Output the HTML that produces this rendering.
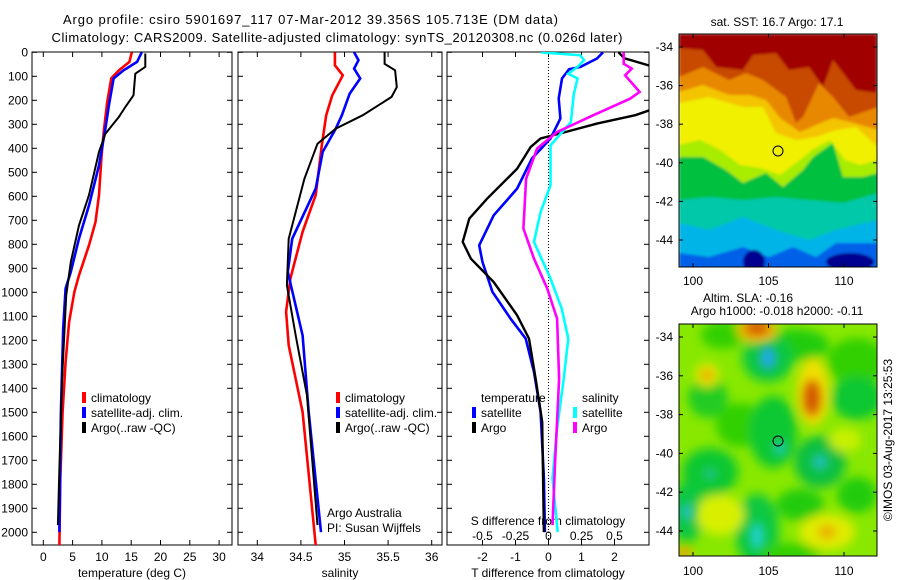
<!DOCTYPE html>
<html><head><meta charset="utf-8">
<style>
html,body{margin:0;padding:0;background:#fff;}
svg{display:block;font-family:"Liberation Sans",sans-serif;}
</style></head>
<body>
<svg id="fig" width="900" height="580" viewBox="0 0 900 580">
  <defs>
    <clipPath id="c1"><rect x="32" y="52" width="200" height="493"/></clipPath>
    <clipPath id="c2"><rect x="238" y="52" width="204" height="493"/></clipPath>
    <clipPath id="c3"><rect x="447" y="52" width="202" height="493"/></clipPath>
    <clipPath id="cm1"><rect x="679" y="34" width="198" height="233"/></clipPath>
    <clipPath id="cm2"><rect x="679" y="324" width="198" height="232"/></clipPath>
    <filter id="bl" x="-20%" y="-20%" width="140%" height="140%"><feGaussianBlur stdDeviation="1.2"/></filter>
    <filter id="bl2" x="-50%" y="-50%" width="200%" height="200%"><feGaussianBlur stdDeviation="5"/></filter>
  </defs>

  <text x="63" y="24" font-size="13" text-anchor="start" textLength="495">Argo profile: csiro 5901697_117 07-Mar-2012 39.356S 105.713E (DM data)</text>
  <text x="337" y="42" font-size="13" text-anchor="middle" textLength="571">Climatology: CARS2009. Satellite-adjusted climatology: synTS_20120308.nc (0.026d later)</text>

  <g id="p1"></g>
  <g id="p2"></g>
  <g id="p3"></g>

  <!-- SST map -->
  <g>
    <text x="777" y="26" font-size="12" text-anchor="middle">sat. SST: 16.7 Argo: 17.1</text>
    <g clip-path="url(#cm1)" filter="url(#bl)">
      <rect x="679" y="34" width="198" height="233" fill="#a00000"/>
      <polygon fill="#c84800" points="679,48 703,50 716,67 743,70 753,55 776,53 789,70 809,67 823,87 833,60 843,73 856,90 878,93 878,270 679,270"/>
      <polygon fill="#e88800" points="679,77 703,67 729,80 746,73 763,80 786,97 796,123 803,117 819,83 833,97 849,117 878,107 878,270 679,270"/>
      <polygon fill="#f4c400" points="679,92 703,85 729,95 750,95 766,100 780,118 800,132 816,125 833,118 850,122 878,130 878,270 679,270"/>
      <polygon fill="#f0f000" points="679,103 709,97 743,107 763,107 776,133 796,140 816,137 836,130 856,127 878,147 878,270 679,270"/>
      <polygon fill="#a8ec00" points="679,145 700,140 720,150 740,165 760,168 780,175 800,160 812,150 830,140 845,160 860,165 878,160 878,270 679,270"/>
      <polygon fill="#00c040" points="679,157 703,157 726,170 743,183 766,173 783,187 803,170 813,157 833,143 843,177 863,177 878,173 878,270 679,270"/>
      <polygon fill="#00c8a8" points="679,200 709,197 743,200 776,197 809,200 843,203 878,193 878,270 679,270"/>
      <polygon fill="#00b4e8" points="679,223 709,230 743,217 776,230 809,240 836,230 878,220 878,270 679,270"/>
      <polygon fill="#0060e8" points="679,253 709,257 743,247 769,257 793,247 816,257 836,243 878,243 878,270 679,270"/>
      <ellipse cx="754" cy="262" rx="11" ry="12" fill="#000090"/>
      <ellipse cx="850" cy="262" rx="24" ry="9" fill="#000090"/>
    </g>
    <rect x="679" y="34" width="198" height="233" fill="none" stroke="#000" stroke-width="1"/>
    <circle cx="778" cy="151" r="5" fill="none" stroke="#000" stroke-width="1"/>
    <g id="m1ax"></g>
  </g>

  <!-- SLA map -->
  <g>
    <text x="748" y="302" font-size="12" text-anchor="middle">Altim. SLA: -0.16</text>
    <text x="777" y="315" font-size="12" text-anchor="middle">Argo h1000: -0.018 h2000: -0.11</text>
    <g clip-path="url(#cm2)">
      <rect x="679" y="324" width="198" height="232" fill="#88e800"/>
      <g filter="url(#bl2)">
        <ellipse cx="723" cy="335" rx="22" ry="14" fill="#30d000"/>
        <ellipse cx="797" cy="345" rx="32" ry="16" fill="#20cc10"/>
        <ellipse cx="768" cy="358" rx="26" ry="24" fill="#10c840"/>
        <ellipse cx="857" cy="362" rx="30" ry="24" fill="#30d000"/>
        <ellipse cx="708" cy="398" rx="20" ry="20" fill="#20cc20"/>
        <ellipse cx="857" cy="398" rx="26" ry="22" fill="#10c830"/>
        <ellipse cx="740" cy="425" rx="24" ry="22" fill="#30d000"/>
        <ellipse cx="773" cy="432" rx="24" ry="36" fill="#10c830"/>
        <ellipse cx="820" cy="462" rx="26" ry="26" fill="#10c040"/>
        <ellipse cx="710" cy="472" rx="28" ry="24" fill="#10c830"/>
        <ellipse cx="687" cy="512" rx="18" ry="30" fill="#10c840"/>
        <ellipse cx="757" cy="530" rx="22" ry="36" fill="#10c840"/>
        <ellipse cx="800" cy="505" rx="24" ry="16" fill="#20cc10"/>
        <ellipse cx="857" cy="495" rx="20" ry="18" fill="#20cc10"/>
        <ellipse cx="790" cy="553" rx="30" ry="10" fill="#30d000"/>
        <ellipse cx="720" cy="515" rx="24" ry="20" fill="#d8f000"/>
        <ellipse cx="827" cy="532" rx="28" ry="18" fill="#e0ec00"/>
        <ellipse cx="813" cy="392" rx="16" ry="34" fill="#f0e000"/>
        <ellipse cx="707" cy="375" rx="12" ry="12" fill="#e0e800"/>
        <ellipse cx="757" cy="330" rx="20" ry="12" fill="#f0c000"/>
        <ellipse cx="845" cy="440" rx="16" ry="12" fill="#c8f000"/>
      </g>
      <g filter="url(#bl2)">
        <ellipse cx="768" cy="358" rx="8" ry="12" fill="#20a8f0"/>
        <ellipse cx="780" cy="448" rx="6" ry="8" fill="#20c8c0"/>
        <ellipse cx="820" cy="462" rx="8" ry="8" fill="#20c0c0"/>
        <ellipse cx="710" cy="474" rx="6" ry="6" fill="#20c0a0"/>
        <ellipse cx="687" cy="512" rx="6" ry="10" fill="#20c0c0"/>
        <ellipse cx="757" cy="536" rx="7" ry="14" fill="#20d0d0"/>
        <ellipse cx="812" cy="398" rx="8" ry="18" fill="#d05000"/>
        <ellipse cx="757" cy="328" rx="12" ry="7" fill="#d05800"/>
        <ellipse cx="707" cy="375" rx="5" ry="5" fill="#f09000"/>
        <ellipse cx="827" cy="532" rx="8" ry="6" fill="#f0a000"/>
        <ellipse cx="684" cy="553" rx="8" ry="6" fill="#f0a000"/>
      </g>
    </g>
    <rect x="679" y="324" width="198" height="232" fill="none" stroke="#000" stroke-width="1"/>
    <circle cx="778" cy="441" r="5" fill="none" stroke="#000" stroke-width="1"/>
    <g id="m2ax"></g>
  </g>

  <text transform="translate(892,440) rotate(-90)" font-size="12" text-anchor="middle">©IMOS 03-Aug-2017 13:25:53</text>
</svg>

<script>
// ===== data =====
const depthTicks = [0,100,200,300,400,500,600,700,800,900,1000,1100,1200,1300,1400,1500,1600,1700,1800,1900,2000];
const tempTicks = [0,5,10,15,20,25,30];
const salTicks = [34,34.5,35,35.5,36];
const tdiffTicks = [-2,-1,0,1,2];
const sdiffTicks = [-0.5,-0.25,0,0.25,0.5];

const tClimDepth = [0,40,75,108,208,332,429,595,707,804,929,998,1124,1290,1499,1775,2053];
const tClimVal   = [15.1,14.7,12.9,11.6,10.9,10.3,9.95,9.5,8.9,7.8,6.1,5.3,4.4,3.8,3.3,2.9,2.75];
const tSatDepth  = [0,40,75,109,221,318,471,638,776,915,984,1150,1499,1999];
const tSatVal    = [16.8,16.0,13.7,12.0,11.2,10.6,9.5,7.8,6.1,4.7,3.8,3.4,3.0,2.75];
const tArgoDepth = [5,61,89,179,228,269,339,415,595,721,874,1013,1359,1733,1970];
const tArgoVal   = [17.4,17.4,15.7,15.4,14.0,12.9,10.6,9.5,7.8,6.1,4.7,3.9,3.2,2.75,2.5];

const sClimDepth = [0,54,96,179,262,388,595,748,942,1081,1221,1499,2053];
const sClimVal   = [34.89,34.89,34.98,34.86,34.79,34.74,34.67,34.52,34.38,34.33,34.36,34.52,34.67];
const sSatDepth  = [0,33,68,109,172,262,318,415,568,777,915,1180,1499,1999];
const sSatVal    = [35.11,35.16,35.11,35.18,35.06,34.97,34.90,34.75,34.67,34.40,34.35,34.52,34.59,34.73];
const sArgoDepth = [0,48,75,145,186,262,318,381,527,777,971,1180,1430,1970];
const sArgoVal   = [35.46,35.46,35.58,35.60,35.54,35.21,34.90,34.69,34.54,34.36,34.34,34.44,34.57,34.69];

const dTSatDepth = [0,26,61,71,109,193,276,359,442,568,679,804,874,998,1110,1193,1332,1499,1775,1999];
const dTSatVal   = [1.65,1.47,0.97,0.62,0.41,0.31,0.36,0.06,-0.5,-0.95,-1.66,-2.1,-2.0,-1.7,-1.15,-0.69,-0.44,-0.24,-0.14,-0.11];
const dTArgoDepth = [0,25,55,120,200,242,262,297,334,359,394,485,610,693,790,860,957,1096,1193,1359,1540,1999];
const dTArgoVal   = [2.12,2.3,3.05,4.2,4.0,3.05,2.63,1.47,0.46,-0.24,-0.54,-0.95,-1.86,-2.4,-2.6,-2.35,-1.66,-0.95,-0.59,-0.39,-0.19,-0.14];
const dSSatDepth = [0,12,33,61,89,109,179,291,388,554,665,790,943,1068,1193,1360,1568,1775,1999];
const dSSatVal   = [-0.06,0.24,0.27,0.22,0.15,0.22,0.19,0.17,0.015,0.015,-0.06,-0.11,0.015,0.10,0.15,0.115,0.065,0.03,0.07];
const dSArgoDepth = [0,48,68,96,165,193,262,332,401,527,734,860,984,1110,1360,1707,1970];
const dSArgoVal   = [0.57,0.57,0.63,0.58,0.69,0.62,0.34,0.065,-0.086,-0.17,-0.19,-0.11,-0.01,0.065,0.08,0.05,0.03];

const mapLatTicks = [-34,-36,-38,-40,-42,-44];
const mapLonTicks = [100,105,110];

// ===== axes =====
const NS = "http://www.w3.org/2000/svg";
const yD = d => 52.3 + d*0.24;
const xT = t => 43.3 + t*5.86;
const xS = s => 257.3 + (s-34)*87.2;
const xDT = t => 548.5 + t*33;
const xDS = s => 548.5 + s*132;
const mlat1 = l => 47 + (-34 - l)*19.3;
const mlat2 = l => 337 + (-34 - l)*19.4;
const mlon = l => 693 + (l-100)*15.1;

function mk(tag, attrs, parent){
  const e = document.createElementNS(NS, tag);
  for (const k in attrs) e.setAttribute(k, attrs[k]);
  parent.appendChild(e);
  return e;
}
function txt(parent, x, y, s, anchor, size){
  const t = mk('text', {x:x, y:y, 'font-size':size||12, 'text-anchor':anchor||'middle'}, parent);
  t.textContent = s;
  return t;
}
function line(parent, xs, ds, fx, color, w, name, clip){
  const pts = xs.map((v,i)=> fx(v).toFixed(1)+','+yD(ds[i]).toFixed(1)).join(' ');
  const p = mk('polyline', {points:pts, fill:'none', stroke:color, 'stroke-width':w, 'stroke-linejoin':'miter', 'clip-path':'url(#'+clip+')'}, parent);
  
  
  return p;
}
function frame(g, x0, x1, name){
  const r = mk('rect', {x:x0, y:52, width:x1-x0, height:493, fill:'none', stroke:'#000', 'stroke-width':1}, g);
  
  
  depthTicks.forEach(d=>{
    mk('line',{x1:x0,x2:x0+5,y1:yD(d),y2:yD(d),stroke:'#000','stroke-width':1},g);
    mk('line',{x1:x1,x2:x1-5,y1:yD(d),y2:yD(d),stroke:'#000','stroke-width':1},g);
  });
}
function xticks(g, ticks, fx, fmt){
  ticks.forEach(v=>{
    const x = fx(v);
    mk('line',{x1:x,x2:x,y1:52,y2:57,stroke:'#000','stroke-width':1},g);
    mk('line',{x1:x,x2:x,y1:545,y2:540,stroke:'#000','stroke-width':1},g);
    const t = txt(g, x, 561, fmt ? fmt(v) : String(v));
    
    
  });
}
function legendEntry(g, x, y, color, label){
  mk('rect',{x:x-2, y:y-6, width:4, height:11, fill:color}, g);
  const t = txt(g, x+7, y+4, label, 'start');
  
  
}

// Panel 1
const p1 = document.getElementById('p1');
frame(p1, 32, 232, 'temperature-plot-area');
xticks(p1, tempTicks, xT);
depthTicks.forEach(d=>{
  const t = txt(p1, 28, yD(d)+4, String(d), 'end');
  
  
});
const xt1 = txt(p1, 132, 577, 'temperature (deg C)');


line(p1, tClimVal, tClimDepth, xT, '#ff0000', 2.6, 'temp-climatology-line', 'c1');
line(p1, tSatVal, tSatDepth, xT, '#0000ff', 2.6, 'temp-satellite-line', 'c1');
line(p1, tArgoVal, tArgoDepth, xT, '#000000', 2, 'temp-argo-line', 'c1');
legendEntry(p1, 84, 398, '#ff0000', 'climatology');
legendEntry(p1, 84, 413, '#0000ff', 'satellite-adj. clim.');
legendEntry(p1, 84, 428, '#000000', 'Argo(..raw -QC)');

// Panel 2
const p2 = document.getElementById('p2');
frame(p2, 238, 442, 'salinity-plot-area');
xticks(p2, salTicks, xS);
const xt2 = txt(p2, 340, 577, 'salinity');


line(p2, sClimVal, sClimDepth, xS, '#ff0000', 2.6, 'sal-climatology-line', 'c2');
line(p2, sSatVal, sSatDepth, xS, '#0000ff', 2.6, 'sal-satellite-line', 'c2');
line(p2, sArgoVal, sArgoDepth, xS, '#000000', 2, 'sal-argo-line', 'c2');
legendEntry(p2, 338, 398, '#ff0000', 'climatology');
legendEntry(p2, 338, 413, '#0000ff', 'satellite-adj. clim.');
legendEntry(p2, 338, 428, '#000000', 'Argo(..raw -QC)');
const cr1 = txt(p2, 327, 517, 'Argo Australia', 'start');


const cr2 = txt(p2, 327, 532, 'PI: Susan Wijffels', 'start');



// Panel 3
const p3 = document.getElementById('p3');
frame(p3, 447, 649, 'difference-plot-area');
xticks(p3, tdiffTicks, xDT);
const zl = mk('line',{x1:xDT(0),x2:xDT(0),y1:52,y2:545,stroke:'#000','stroke-width':1,'stroke-dasharray':'1,2'},p3);


sdiffTicks.forEach(v=>{
  const t = txt(p3, xDS(v), 540, String(v));
  
  
});
const st = txt(p3, 548, 525, 'S difference from climatology');


const xt3 = txt(p3, 548, 577, 'T difference from climatology');


line(p3, dTSatVal, dTSatDepth, xDT, '#0000ff', 2.6, 'tdiff-satellite-line', 'c3');
line(p3, dTArgoVal, dTArgoDepth, xDT, '#000000', 2.4, 'tdiff-argo-line', 'c3');
line(p3, dSSatVal, dSSatDepth, xDS, '#00ffff', 2.6, 'sdiff-satellite-line', 'c3');
line(p3, dSArgoVal, dSArgoDepth, xDS, '#ff00ff', 2.6, 'sdiff-argo-line', 'c3');
const lt = txt(p3, 481, 402, 'temperature', 'start');


const ls = txt(p3, 582, 402, 'salinity', 'start');


legendEntry(p3, 474, 413, '#0000ff', 'satellite');
legendEntry(p3, 474, 428, '#000000', 'Argo');
legendEntry(p3, 575, 413, '#00ffff', 'satellite');
legendEntry(p3, 575, 428, '#ff00ff', 'Argo');

// Map axes
function mapAxes(gid, fy, top, bottom, labY){
  const g = document.getElementById(gid);
  mapLatTicks.forEach(l=>{
    const y = fy(l);
    mk('line',{x1:679,x2:683,y1:y,y2:y,stroke:'#000'},g);
    mk('line',{x1:877,x2:873,y1:y,y2:y,stroke:'#000'},g);
    const t = txt(g, 673, y+4, String(l), 'end');
    
    
  });
  mapLonTicks.forEach(l=>{
    const x = mlon(l);
    mk('line',{x1:x,x2:x,y1:top,y2:top+4,stroke:'#000'},g);
    mk('line',{x1:x,x2:x,y1:bottom,y2:bottom-4,stroke:'#000'},g);
    const t = txt(g, x, labY, String(l));
    
    
  });
}
mapAxes('m1ax', mlat1, 34, 267, 285);
mapAxes('m2ax', mlat2, 324, 556, 575);
</script>
</body></html>
